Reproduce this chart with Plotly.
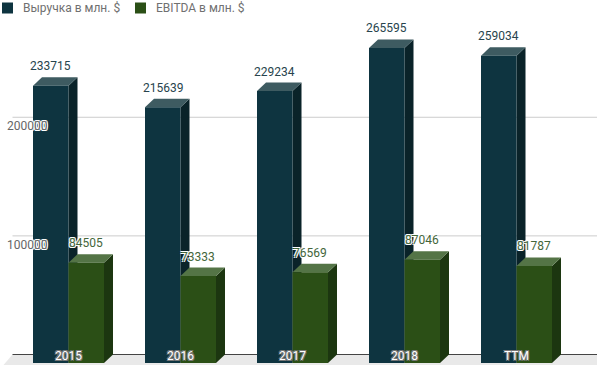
import plotly.graph_objects as go

# ---- data ----
categories = ["2015", "2016", "2017", "2018", "TTM"]
revenue = [233715, 215639, 229234, 265595, 259034]
ebitda = [84505, 73333, 76569, 87046, 81787]
series_names = ["Выручка в млн. $", "EBITDA в млн. $"]
y_tick_values = [100000, 200000]
y_tick_labels = ["100000", "200000"]

# ---- styling / geometry ----
W, H = 597, 365
Y0_PX = 363.0          # pixel row of the front zero line
Y_SCALE = 0.0011862    # pixels per value unit
X0_PX = 68.5           # pixel column of the first category centre
X_STEP = 112.0         # pixels per category
DEPTH_X_PX, DEPTH_Y_PX = 9.0, 8.5

yr = [-(H - Y0_PX) / Y_SCALE, Y0_PX / Y_SCALE]
xr = [-X0_PX / X_STEP, (W - X0_PX) / X_STEP]
DX = DEPTH_X_PX / X_STEP
DY = DEPTH_Y_PX / Y_SCALE
BAR_W = 35.5 / X_STEP

REV = dict(front="#0e3440", side="#0a2329", top="#3e5b61", label="#27444d")
EBT = dict(front="#2b4f16", side="#1c3610", top="#547446", label="#44663a")

idx = list(range(len(categories)))

fig = go.Figure()
fig.add_trace(go.Bar(x=idx, y=revenue, width=BAR_W, offset=-BAR_W, name=series_names[0],
                     marker=dict(color=REV["front"], line=dict(width=0)), showlegend=False,
                     hoverinfo="y"))
fig.add_trace(go.Bar(x=idx, y=ebitda, width=BAR_W, offset=0, name=series_names[1],
                     marker=dict(color=EBT["front"], line=dict(width=0)), showlegend=False,
                     hoverinfo="y"))

shapes = []
# back-plane grid lines
for v in y_tick_values:
    shapes.append(dict(type="line", xref="x", yref="y", x0=-0.5, x1=xr[1], y0=v + DY, y1=v + DY,
                       line=dict(color="#cccccc", width=1), layer="below"))
# floor
shapes.append(dict(type="path", xref="x", yref="y", layer="below",
                   path=f"M{-0.5},{DY} L{xr[1]},{DY} L{xr[1]},{yr[0]} L{-0.5 - DX},{yr[0]} Z",
                   fillcolor="#e9e9e9", line=dict(width=0)))
shapes.append(dict(type="line", xref="x", yref="y", x0=-0.5, x1=xr[1], y0=DY, y1=DY,
                   line=dict(color="#444444", width=1), layer="below"))


def faces(xl, xrr, v, col):
    side = f"M{xrr},0 L{xrr + DX},{DY} L{xrr + DX},{v + DY} L{xrr},{v} Z"
    top = f"M{xl},{v} L{xl + DX},{v + DY} L{xrr + DX},{v + DY} L{xrr},{v} Z"
    return [dict(type="path", xref="x", yref="y", layer="below", path=side,
                 fillcolor=col["side"], line=dict(width=0)),
            dict(type="path", xref="x", yref="y", layer="below", path=top,
                 fillcolor=col["top"], line=dict(width=0))]


for i in idx:
    shapes += faces(i - BAR_W, i, revenue[i], REV)
    shapes += faces(i, i + BAR_W, ebitda[i], EBT)

WHITE_OUT = "1px 1px 0 #fff, -1px -1px 0 #fff, 1px -1px 0 #fff, -1px 1px 0 #fff"
DARK_OUT = "1px 1px 0 #777, -1px -1px 0 #777, 1px -1px 0 #777, -1px 1px 0 #777"

annotations = []
for i in idx:
    for vals, col, off in ((revenue, REV, -BAR_W / 2), (ebitda, EBT, BAR_W / 2)):
        annotations.append(dict(x=i + off, y=vals[i] + DY, xref="x", yref="y", text=str(vals[i]),
                                showarrow=False, yanchor="bottom", yshift=2,
                                font=dict(family="Roboto", size=12, color=col["label"], shadow=WHITE_OUT)))

# legend (manual)
leg = [(2, 22, REV["front"], series_names[0]), (135, 155, EBT["front"], series_names[1])]
for sx, tx, c, name in leg:
    shapes.append(dict(type="rect", xref="paper", yref="paper", x0=sx / W, x1=(sx + 11) / W,
                       y0=1 - 13.5 / H, y1=1 - 2.5 / H, fillcolor=c, line=dict(width=0), layer="above"))
    annotations.append(dict(x=tx / W, y=1 - 8 / H, xref="paper", yref="paper", text=name,
                            showarrow=False, xanchor="left", yanchor="middle", xshift=-1,
                            font=dict(family="Roboto", size=12, color="#707070")))

fig.update_layout(
    width=W, height=H, margin=dict(l=0, r=0, t=0, b=0),
    paper_bgcolor="white", plot_bgcolor="white",
    barmode="overlay", showlegend=False,
    shapes=shapes, annotations=annotations,
    xaxis=dict(range=xr, showgrid=False, zeroline=False, showline=False,
               tickvals=idx, ticktext=categories, ticklabelposition="inside", ticks="",
               ticklabelstandoff=0, automargin=False, fixedrange=True,
               tickfont=dict(family="Roboto", size=12, color="#ffffff", shadow=DARK_OUT)),
    yaxis=dict(range=yr, showgrid=False, zeroline=False, showline=False,
               tickvals=y_tick_values, ticktext=y_tick_labels, ticklabelposition="inside", ticks="",
               ticklabelstandoff=4, automargin=False, fixedrange=True,
               tickfont=dict(family="Roboto", size=12, color="#666666", shadow=WHITE_OUT)),
)

fig.write_html("out.html", config={"displayModeBar": False},
               post_script="document.body.style.margin='0';document.body.style.overflow='hidden';")
